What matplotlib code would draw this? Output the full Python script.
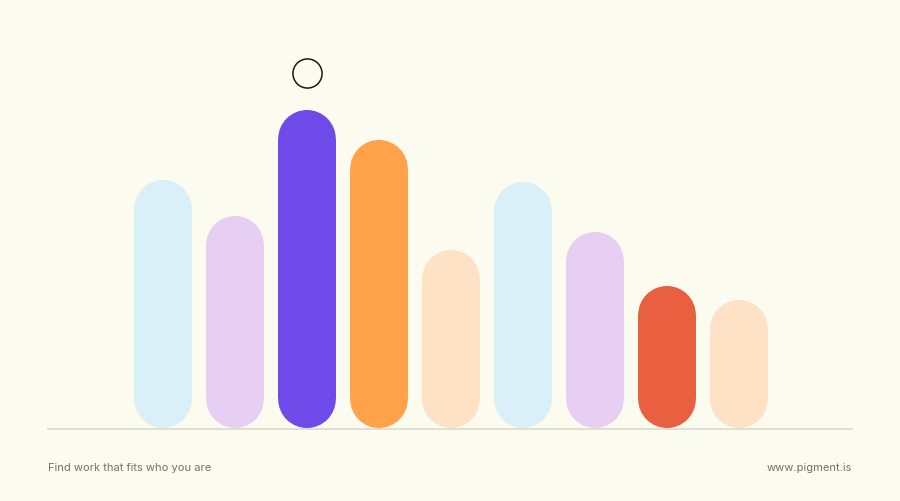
import matplotlib
matplotlib.use("Agg")
import matplotlib.pyplot as plt
from matplotlib.patches import Ellipse

plt.rcParams["font.family"] = ["Inter", "DejaVu Sans"]

BG = "#fcfbef"

values = [62, 53, 79.5, 72, 44.5, 61.5, 49, 35.5, 32]
colors = ["#d9f0f8", "#e6cff3", "#6e4be8", "#ffa24a", "#ffe1c6",
          "#d9f0f8", "#e6cff3", "#e8603f", "#ffe1c6"]
highlight = 2
tagline = "Find work that fits who you are"
site = "www.pigment.is"

W, H = 900, 502
fig = plt.figure(figsize=(W / 100, H / 100), dpi=100, facecolor=BG)

# axes spans the plot band: 48..852 px horizontally, baseline near 430 px
left_px, right_px, base_px = 48, 852, 429
ax = fig.add_axes([left_px / W, (H - base_px) / H,
                   (right_px - left_px) / W, base_px / H])
ax.set_facecolor(BG)
px_x = 72.0   # pixels per category
px_y = 4.0    # pixels per value unit
x0 = (left_px - 163) / px_x
ax.set_xlim(x0, x0 + (right_px - left_px) / px_x)
ax.set_ylim(0, base_px / px_y)
ax.axis("off")

# pill-shaped bars: straight body plus round caps
bw = 0.8
cap_h = bw * px_x / px_y          # cap diameter in value units
r = cap_h / 2
x = list(range(len(values)))
ax.bar(x, [v - 2 * r for v in values], bottom=r, width=bw,
       color=colors, linewidth=0, zorder=2)
for i, (v, c) in enumerate(zip(values, colors)):
    for yc in (r, v - r):
        ax.add_patch(Ellipse((i, yc), bw, cap_h, fc=c, ec="none", zorder=2))

# baseline sits just under the bars
ax.axhline(-0.35, color="#dddccf", lw=1.3, zorder=1, clip_on=False)

ax.scatter([highlight], [values[highlight] + 9.2], s=440, facecolor=BG,
           edgecolor="#1a1a1a", linewidth=1.1, zorder=3, clip_on=False)

fig.text(left_px / W, 1 - 468 / H, tagline, fontsize=8, color="#72726c",
         ha="left", va="center")
fig.text(right_px / W, 1 - 468 / H, site, fontsize=8, color="#72726c",
         ha="right", va="center")

fig.savefig("out.png", dpi=100, facecolor=BG)
